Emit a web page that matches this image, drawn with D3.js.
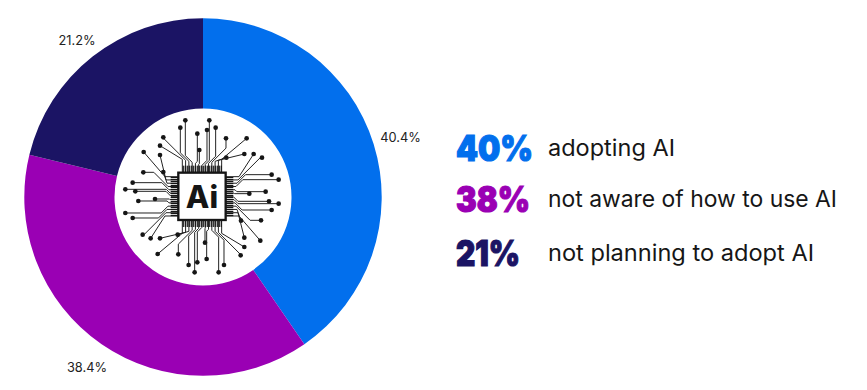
<!DOCTYPE html>
<html><head><meta charset="utf-8">
<style>html,body{margin:0;background:#fff}svg{display:block}text{font-family:Inter,"Open Sans",sans-serif}</style>
<script src="https://cdn.jsdelivr.net/npm/d3@7"></script></head>
<body><svg id="c" width="867" height="390"></svg>
<script>
const categories=["adopting AI","not aware of how to use AI","not planning to adopt AI"];
const sliceValues=[40.4,38.4,21.2];
const sliceLabels=["40.4%","38.4%","21.2%"];
const roundedLabels=["40%","38%","21%"];
const colors=["#026fed","#9a00b4","#1b1464"];
const labelPos=[[400.5,138],[87,368],[77,41]];
const rowY=[148,199,253];
const bigW=[77,74,64];
const catW=[127,289,266];
// circuit-node positions of the chip icon (zoomed icon pixels, 555 px box = 185 px)
const iconNodes=[[226,46],[298,46],[211,68],[291,75],[317,68],[262,86],[348,100],[410,100],[160,97],[150,122],[150,150],[101,141],[268,135],[349,158],[403,147],[431,147],[456,158],[485,209],[506,224],[467,260],[418,266],[477,289],[506,296],[485,315],[393,347],[453,346],[403,398],[451,407],[403,426],[392,451],[285,413],[342,480],[326,502],[290,462],[254,502],[262,472],[236,480],[205,448],[143,447],[203,389],[150,400],[122,400],[98,389],[46,324],[68,339],[85,288],[135,282],[46,253],[68,233],[76,259],[100,202],[160,201]];

const svg=d3.select("#c");
const cx=203,cy=197,R=178.7,r0=88.5;
const g=svg.append("g").attr("transform",`translate(${cx},${cy})`);
const pie=d3.pie().sort(null)(sliceValues);
const arc=d3.arc().innerRadius(r0).outerRadius(R);
g.selectAll("path").data(pie).join("path").attr("d",arc).attr("fill",(d,i)=>colors[i]);

svg.selectAll("text.pct").data(sliceLabels).join("text").attr("class","pct")
 .attr("x",(d,i)=>labelPos[i][0]).attr("y",(d,i)=>labelPos[i][1]).attr("dy","0.35em")
 .attr("text-anchor","middle").attr("font-size",12.8).attr("fill","#222").text(d=>d);

// legend
svg.selectAll("text.big").data(roundedLabels).join("text").attr("class","big")
 .attr("x",456).attr("y",(d,i)=>rowY[i]).attr("dy","0.37em")
 .attr("font-size",35).attr("font-weight",900).attr("fill",(d,i)=>colors[i])
 .attr("stroke",(d,i)=>colors[i]).attr("stroke-width",1.2)
 .attr("textLength",(d,i)=>bigW[i]).attr("lengthAdjust","spacingAndGlyphs").text(d=>d);
svg.selectAll("text.cat").data(categories).join("text").attr("class","cat")
 .attr("x",548).attr("y",(d,i)=>rowY[i]).attr("dy","0.35em")
 .attr("font-size",22.5).attr("font-weight",400).attr("fill","#161616")
 .attr("textLength",(d,i)=>catW[i]).attr("lengthAdjust","spacingAndGlyphs").text(d=>d);

// chip icon
const ic=svg.append("g").attr("transform","translate(110,105) scale(0.3333)");
const L=205,Rr=347,T=203,B=345,mid=(L+Rr)/2,midY=(T+B)/2;
const sides={top:[],right:[],bottom:[],left:[]};
iconNodes.forEach(n=>{
  const dx=n[0]-mid,dy=n[1]-midY;
  const s=Math.abs(dx)>Math.abs(dy)?(dx>0?"right":"left"):(dy>0?"bottom":"top");
  sides[s].push(n);
});
const line=d3.line();
function traces(list,horizontal,sign,base){
  const key=horizontal?1:0, lo=horizontal?T+12:L+12, hi=horizontal?B-12:Rr-12;
  list.sort((a,b)=>a[key]-b[key]);
  const scale=d3.scalePoint().domain(d3.range(list.length)).range([lo,hi]);
  list.forEach((n,i)=>{
    const p=scale(i), off=22+(Math.abs(p-(lo+hi)/2)/ (hi-lo))*36;
    const far=horizontal?n[0]:n[1];
    const a=base+sign*off, target=horizontal?n[1]:n[0];
    const diag=Math.abs(target-p);
    let b=a+sign*diag;
    if(sign*(b-far)>0) b=far;
    const pts=horizontal?[[base,p],[a,p],[b,target],[far,target]]:[[p,base],[p,a],[target,b],[target,far]];
    ic.append("path").attr("d",line(pts)).attr("fill","none").attr("stroke","#222").attr("stroke-width",3);
    ic.append("circle").attr("cx",n[0]).attr("cy",n[1]).attr("r",7).attr("fill","#151515");
  });
}
traces(sides.top,false,-1,T);
traces(sides.bottom,false,1,B);
traces(sides.left,true,-1,L);
traces(sides.right,true,1,Rr);
// pin bands
ic.selectAll("rect.pin").data(d3.range(20)).join("rect")
 .attr("x",d=>218+d*6).attr("y",182).attr("width",3.6).attr("height",21).attr("fill","#151515");
ic.selectAll("rect.pinb").data(d3.range(20)).join("rect")
 .attr("x",d=>218+d*6).attr("y",345).attr("width",3.6).attr("height",21).attr("fill","#151515");
ic.selectAll("rect.pinl").data(d3.range(20)).join("rect")
 .attr("y",d=>216+d*6).attr("x",182).attr("height",3.6).attr("width",23).attr("fill","#151515");
ic.selectAll("rect.pinr").data(d3.range(20)).join("rect")
 .attr("y",d=>216+d*6).attr("x",347).attr("height",3.6).attr("width",23).attr("fill","#151515");
ic.append("rect").attr("x",L).attr("y",T).attr("width",Rr-L).attr("height",B-T)
 .attr("fill","#fff").attr("stroke","#151515").attr("stroke-width",7);
ic.append("text").attr("x",mid).attr("y",310).attr("text-anchor","middle")
 .attr("font-size",92).attr("font-weight",800).attr("fill","#151515").text("Ai");
</script></body></html>
